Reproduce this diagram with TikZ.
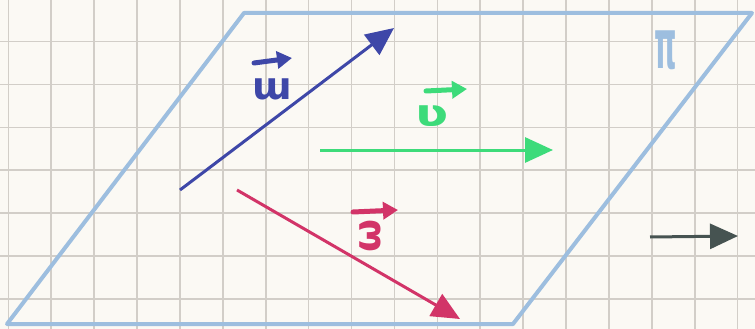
\documentclass[tikz,border=0pt]{standalone}
\usepackage{fontspec}
\newfontfamily\hand{DejaVu Sans}
\usetikzlibrary{arrows.meta}
\definecolor{paper}{HTML}{FBF9F4}
\definecolor{gridc}{HTML}{D2CEC8}
\definecolor{planec}{HTML}{9DBEDF}
\definecolor{ublue}{HTML}{3E47A8}
\definecolor{vgreen}{HTML}{3DDB7A}
\definecolor{wred}{HTML}{D23468}
\definecolor{dgray}{HTML}{465351}
\tikzset{
  vec/.style={line width=3pt, -{Triangle[length=28pt,width=25pt]}},
  lblarrow/.style={line width=5pt, line cap=round, -{Triangle[length=15pt,width=17pt]}},
  lbl/.style={inner sep=0pt, font=\hand\bfseries\fontsize{38}{38}\selectfont}
}
\begin{document}
\begin{tikzpicture}[x=1pt,y=-1pt]
\fill[paper] (0,0) rectangle (755,329);
\useasboundingbox (0,0) rectangle (755,329);
\foreach \i in {0,...,17} \draw[gridc, line width=1.6pt] ({8.3+42.9*\i},0) -- ({8.3+42.9*\i},329);
\foreach \j in {1,...,7} \draw[gridc, line width=1.6pt] (0,{-1.4+42.9*\j}) -- (755,{-1.4+42.9*\j});
% plane
\coordinate (p1) at (244,13);
\coordinate (p2) at (752,13);
\coordinate (p3) at (513,324);
\coordinate (p4) at (7,324);
\draw[planec, line width=4pt, line join=round] (p1) -- (p2) -- (p3) -- (p4) -- cycle;
% vectors
\coordinate (u0) at (180,190); \coordinate (u1) at (394,28);
\coordinate (v0) at (320,150); \coordinate (v1) at (553,150);
\coordinate (w0) at (237,190); \coordinate (w1) at (460,319);
\coordinate (n0) at (650,237); \coordinate (n1) at (738,236);
\draw[vec, ublue] (u0) -- (u1);
\draw[vec, vgreen] (v0) -- (v1);
\draw[vec, wred] (w0) -- (w1);
\draw[vec, dgray] (n0) -- (n1);
% labels
\node[lbl, text=ublue] (lu) at (272,89) {ɯ};
\coordinate (lua) at (254,63); \coordinate (lub) at (292,58);
\draw[lblarrow, ublue] (lua) -- (lub);
\node[lbl, text=vgreen] (lv) at (432,116) {\scalebox{1.3}[1]{ʋ}};
\coordinate (lva) at (426,91); \coordinate (lvb) at (467,89);
\draw[lblarrow, vgreen] (lva) -- (lvb);
\node[lbl, text=wred, rotate=90] (lw) at (370,236) {ω};
\coordinate (lwa) at (353,212); \coordinate (lwb) at (398,210);
\draw[lblarrow, wred] (lwa) -- (lwb);
\node[inner sep=0pt, text=planec, font=\hand\bfseries\fontsize{30}{30}\selectfont] (lp) at (666,50) {\scalebox{0.95}[2.3]{π}};
\end{tikzpicture}
\end{document}
